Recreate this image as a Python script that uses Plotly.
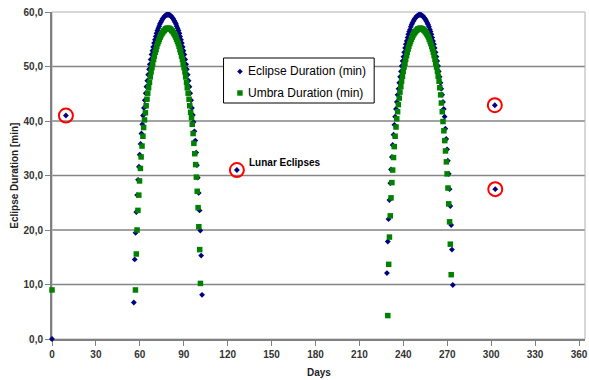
import plotly.graph_objects as go

# ---------------- data ----------------
# isolated points
start_day = [0]
start_eclipse_min = [0.0]
start_umbra_min = [9.0]

lunar_days = [9.5, 126.3, 302.5, 302.8]
lunar_eclipse_min = [41.0, 31.0, 42.9, 27.5]

# first eclipse season
arc1_days_ecl = [55.9, 56.5, 57.1, 57.6, 58.2, 58.8, 59.4, 59.9, 60.5, 61.1,
                 61.7, 62.2, 62.8, 63.4, 64.0, 64.5, 65.1, 65.7, 66.3, 66.8,
                 67.4, 68.0, 68.6, 69.1, 69.7, 70.3, 70.9, 71.4, 72.0, 72.6,
                 73.2, 73.7, 74.3, 74.9, 75.5, 76.0, 76.6, 77.2, 77.8, 78.3,
                 78.9, 79.5, 80.1, 80.6, 81.2, 81.8, 82.4, 82.9, 83.5, 84.1,
                 84.7, 85.2, 85.8, 86.4, 87.0, 87.5, 88.1, 88.7, 89.3, 89.8,
                 90.4, 91.0, 91.6, 92.1, 92.7, 93.3, 93.9, 94.4, 95.0, 95.6,
                 96.2, 96.7, 97.3, 97.9, 98.5, 99.0, 99.6, 100.2, 100.8, 101.3,
                 101.9, 102.5]
arc1_ecl = [6.7, 14.6, 19.5, 23.3, 26.4, 29.2, 31.6, 33.8, 35.8, 37.7,
            39.4, 41.0, 42.4, 43.8, 45.1, 46.3, 47.4, 48.5, 49.5, 50.4,
            51.3, 52.2, 52.9, 53.6, 54.3, 54.9, 55.5, 56.1, 56.6, 57.0,
            57.4, 57.8, 58.1, 58.4, 58.7, 58.9, 59.1, 59.3, 59.4, 59.5,
            59.5,
            59.5, 59.5, 59.4, 59.3, 59.1, 58.9, 58.7, 58.4, 58.1, 57.8,
            57.4, 57.0, 56.6, 56.1, 55.5, 54.9, 54.3, 53.6, 52.9, 52.2,
            51.3, 50.4, 49.5, 48.5, 47.4, 46.3, 45.1, 43.8, 42.4, 41.1,
            39.8, 38.1, 36.4, 34.2, 31.9, 29.6, 26.8, 23.6, 19.9, 15.3,
            8.1]
arc1_days_umb = [57.0, 57.6, 58.1, 58.7, 59.3, 59.8, 60.4, 60.9,
                 61.5, 62.1, 62.6, 63.2, 63.8, 64.3, 64.9, 65.4,
                 66.0, 66.6, 67.1, 67.7, 68.3, 68.8, 69.4, 69.9,
                 70.5, 71.1, 71.6, 72.2, 72.8, 73.3, 73.9, 74.4,
                 75.0, 75.6, 76.1, 76.7, 77.3, 77.8, 78.4, 78.9,
                 79.5, 80.1, 80.6, 81.2, 81.8, 82.3, 82.9, 83.4,
                 84.0, 84.6, 85.1, 85.7, 86.3, 86.8, 87.4, 87.9,
                 88.5, 89.1, 89.6, 90.2, 90.8, 91.3, 91.9, 92.4,
                 93.0, 93.6, 94.1, 94.7, 95.3, 95.8, 96.4, 96.9,
                 97.5, 98.1, 98.6, 99.2, 99.8, 100.3, 100.9, 101.4]
arc1_umb = [9.0, 15.6, 20.0, 23.6, 26.4, 29.0, 31.3, 33.4, 35.4, 37.2,
            38.8, 40.2, 41.5, 42.8, 44.0, 45.1, 46.1, 47.1, 48.1, 49.0,
            49.8, 50.5, 51.3, 51.9, 52.6, 53.1, 53.7, 54.2, 54.6, 55.0,
            55.4, 55.7, 56.0, 56.2, 56.5, 56.6, 56.8, 56.9, 57.0, 57.0,
            57.0, 57.0, 56.9, 56.8, 56.6, 56.5, 56.2, 56.0, 55.7, 55.4,
            55.0, 54.6, 54.2, 53.7, 53.1, 52.6, 51.9, 51.3, 50.5, 49.8,
            49.0, 48.1, 47.1, 46.1, 45.1, 44.0, 42.8, 41.6, 40.6, 39.4,
            37.7, 35.9, 34.0, 32.0, 29.7, 27.1, 24.1, 20.6, 16.4, 10.2]

# second eclipse season
arc2_days_ecl = [228.8, 229.4, 229.9, 230.5, 231.1, 231.6, 232.2, 232.7,
                 233.3, 233.9, 234.4, 235.0, 235.6, 236.1, 236.7, 237.2,
                 237.8, 238.4, 238.9, 239.5, 240.1, 240.6, 241.2, 241.7,
                 242.3, 242.9, 243.4, 244.0, 244.6, 245.1, 245.7, 246.2,
                 246.8, 247.4, 247.9, 248.5, 249.1, 249.6, 250.2, 250.7,
                 251.3, 251.9, 252.4, 253.0, 253.6, 254.1, 254.7, 255.2,
                 255.8, 256.4, 256.9, 257.5, 258.1, 258.6, 259.2, 259.7,
                 260.3, 260.9, 261.4, 262.0, 262.6, 263.1, 263.7, 264.2,
                 264.8, 265.4, 265.9, 266.5, 267.1, 267.6, 268.2, 268.7,
                 269.3, 269.9, 270.4, 271.0, 271.6, 272.1, 272.7, 273.2,
                 273.8]
arc2_ecl = [12.1, 17.9, 22.0, 25.5, 28.6, 31.1, 33.4, 35.6, 37.5, 39.3,
            40.8, 42.2, 43.5, 44.8, 45.9, 47.0, 48.1, 49.1, 50.1, 51.0,
            51.8, 52.6, 53.4, 54.1, 54.7, 55.3, 55.9, 56.4, 56.8, 57.3,
            57.7, 58.0, 58.3, 58.6, 58.8, 59.0, 59.2, 59.3, 59.4, 59.5,
            59.5,
            59.5, 59.4, 59.3, 59.2, 59.0, 58.8, 58.6, 58.3, 58.0, 57.7,
            57.3, 56.8, 56.4, 55.9, 55.3, 54.7, 54.1, 53.4, 52.6, 51.8,
            51.0, 50.1, 49.1, 48.1, 47.0, 45.9, 44.8, 43.5, 42.2, 40.8,
            38.6, 36.7, 34.8, 32.7, 30.3, 27.5, 24.4, 20.9, 16.4, 9.9]
arc2_days_umb = [229.4, 230.0, 230.5, 231.1, 231.6, 232.2, 232.7, 233.3, 233.8, 234.4,
                 235.0, 235.5, 236.1, 236.6, 237.2, 237.7, 238.3, 238.8, 239.4, 239.9,
                 240.5, 241.1, 241.6, 242.2, 242.7, 243.3, 243.8, 244.4, 244.9, 245.5,
                 246.1, 246.6, 247.2, 247.7, 248.3, 248.8, 249.4, 249.9, 250.5, 251.0,
                 251.6, 252.2, 252.7, 253.3, 253.8, 254.4, 254.9, 255.5, 256.0, 256.6,
                 257.2, 257.7, 258.3, 258.8, 259.4, 259.9, 260.5, 261.0, 261.6, 262.1,
                 262.7, 263.3, 263.8, 264.4, 264.9, 265.5, 266.0, 266.6, 267.1, 267.7,
                 268.3, 268.8, 269.4, 269.9, 270.5, 271.0, 271.6, 272.1, 272.7]
arc2_umb = [4.3, 13.7, 18.7, 22.6, 25.9, 28.7, 31.0, 33.3, 35.3, 37.2,
            38.9, 40.4, 41.7, 43.0, 44.2, 45.3, 46.3, 47.3, 48.2, 49.1,
            49.9, 50.6, 51.3, 52.0, 52.6, 53.2, 53.7, 54.2, 54.6, 55.0,
            55.4, 55.7, 56.0, 56.2, 56.4, 56.6, 56.7, 56.9, 56.9, 57.0,
            57.0,
            57.0, 56.9, 56.9, 56.7, 56.6, 56.4, 56.2, 56.0, 55.7, 55.4,
            55.0, 54.6, 54.2, 53.7, 53.2, 52.6, 52.0, 51.3, 50.6, 49.9,
            49.1, 48.2, 47.3, 46.1, 44.8, 43.3, 41.7, 39.9, 38.2, 36.4,
            34.5, 32.5, 30.3, 27.7, 24.8, 21.5, 17.4, 11.8]

x_tick_vals = [0, 30, 60, 90, 120, 150, 180, 210, 240, 270, 300, 330, 360]
y_tick_vals = [0, 10, 20, 30, 40, 50, 60]
grid_vals = [10, 20, 30, 40, 50]

series_names = ["Eclipse Duration (min)", "Umbra Duration (min)"]
annotation_text = "Lunar Eclipses"

assert len(arc1_days_ecl) == len(arc1_ecl)
assert len(arc1_days_umb) == len(arc1_umb)
assert len(arc2_days_ecl) == len(arc2_ecl)
assert len(arc2_days_umb) == len(arc2_umb)

# ---------------- assemble series ----------------
ecl_days = start_day + lunar_days[:1] + arc1_days_ecl + lunar_days[1:2] + arc2_days_ecl + lunar_days[2:]
ecl_vals = start_eclipse_min + lunar_eclipse_min[:1] + arc1_ecl + lunar_eclipse_min[1:2] + arc2_ecl + lunar_eclipse_min[2:]
umb_days = start_day + arc1_days_umb + arc2_days_umb
umb_vals = start_umbra_min + arc1_umb + arc2_umb

BLUE = "#000080"
GREEN = "#008000"
RED = "#ff0000"
FONT = "Liberation Sans, Arial, sans-serif"

fig = go.Figure()
fig.add_trace(go.Scatter(x=ecl_days, y=ecl_vals, mode="markers", name=series_names[0],
                         marker=dict(symbol="diamond", size=4.5, color=BLUE, line=dict(width=0)),
                         showlegend=False, cliponaxis=False))
fig.add_trace(go.Scatter(x=umb_days, y=umb_vals, mode="markers", name=series_names[1],
                         marker=dict(symbol="square", size=5.5, color=GREEN, line=dict(width=0)),
                         showlegend=False, cliponaxis=False))
fig.add_trace(go.Scatter(x=lunar_days, y=lunar_eclipse_min, mode="markers", name=annotation_text,
                         marker=dict(symbol="circle-open", size=14, color=RED, line=dict(width=2, color=RED)),
                         showlegend=False, hoverinfo="skip", cliponaxis=False))

W, H = 589, 380
ML, MR, MT, MB = 52, 1, 12, 41
PW, PH = W - ML - MR, H - MT - MB


def px_x(px):
    return (px - ML) / PW


def px_y(py):
    return (H - MB - py) / PH


shapes = []
# horizontal grid lines
for g in grid_vals:
    shapes.append(dict(type="line", xref="paper", yref="y", x0=0, x1=1, y0=g, y1=g,
                       line=dict(color="#858585", width=1.6), layer="below"))
# plot area frame (top / right)
shapes.append(dict(type="rect", xref="paper", yref="paper", x0=0, x1=1, y0=0, y1=1,
                   line=dict(color="#b0b0b0", width=1), layer="below"))
# legend box
shapes.append(dict(type="rect", xref="paper", yref="paper",
                   x0=px_x(224.5), x1=px_x(376), y0=px_y(103), y1=px_y(58),
                   line=dict(color="#000000", width=1), fillcolor="white", layer="above"))
# legend glyphs
shapes.append(dict(type="path", xref="paper", yref="paper", xsizemode="pixel", ysizemode="pixel",
                   xanchor=px_x(241), yanchor=px_y(71.5),
                   path="M -2.8 0 L 0 2.8 L 2.8 0 L 0 -2.8 Z",
                   fillcolor=BLUE, line=dict(width=0), layer="above"))
shapes.append(dict(type="rect", xref="paper", yref="paper", xsizemode="pixel", ysizemode="pixel",
                   xanchor=px_x(241), yanchor=px_y(93),
                   x0=-2.7, x1=2.7, y0=-2.7, y1=2.7,
                   fillcolor=GREEN, line=dict(width=0), layer="above"))

annotations = [
    dict(text=series_names[0], xref="paper", yref="paper", x=px_x(247), y=px_y(71.5),
         xanchor="left", yanchor="middle", showarrow=False,
         font=dict(family=FONT, size=12, color="#000000")),
    dict(text=series_names[1], xref="paper", yref="paper", x=px_x(247), y=px_y(93),
         xanchor="left", yanchor="middle", showarrow=False,
         font=dict(family=FONT, size=12, color="#000000")),
    dict(text=annotation_text, xref="x", yref="y", x=133.0, y=32.4,
         xanchor="left", yanchor="middle", showarrow=False,
         font=dict(family=FONT, size=10, color="#000000", weight="bold")),
    dict(text="Eclipse Duration [min]", xref="paper", yref="paper", x=px_x(14), y=0.5,
         xanchor="center", yanchor="middle", textangle=-90, showarrow=False,
         font=dict(family=FONT, size=10, color="#222222", weight="bold")),
    dict(text="Days", xref="paper", yref="paper", x=px_x(320), y=px_y(372.5),
         xanchor="center", yanchor="middle", showarrow=False,
         font=dict(family=FONT, size=10, color="#222222", weight="bold")),
]

fig.update_layout(
    width=W, height=H,
    margin=dict(l=ML, r=MR, t=MT, b=MB, pad=0),
    paper_bgcolor="white", plot_bgcolor="white",
    separators=", ",
    showlegend=False,
    shapes=shapes,
    annotations=annotations,
    xaxis=dict(range=[0, 364.1], tickmode="array", tickvals=x_tick_vals,
               showgrid=False, zeroline=False,
               showline=True, linecolor="#808080", linewidth=2,
               ticks="outside", ticklen=5, tickwidth=1, tickcolor="#808080",
               ticklabeloverflow="allow", layer="below traces",
               tickfont=dict(family=FONT, size=10, color="#333333", weight="bold"),
               fixedrange=True),
    yaxis=dict(range=[0, 60], tickmode="array", tickvals=y_tick_vals, tickformat=".1f",
               showgrid=False, zeroline=False,
               showline=True, linecolor="#808080", linewidth=2,
               ticks="outside", ticklen=5, tickwidth=1, tickcolor="#808080",
               layer="below traces",
               tickfont=dict(family=FONT, size=10, color="#333333", weight="bold"),
               fixedrange=True),
)

fig.write_html("out.html")
